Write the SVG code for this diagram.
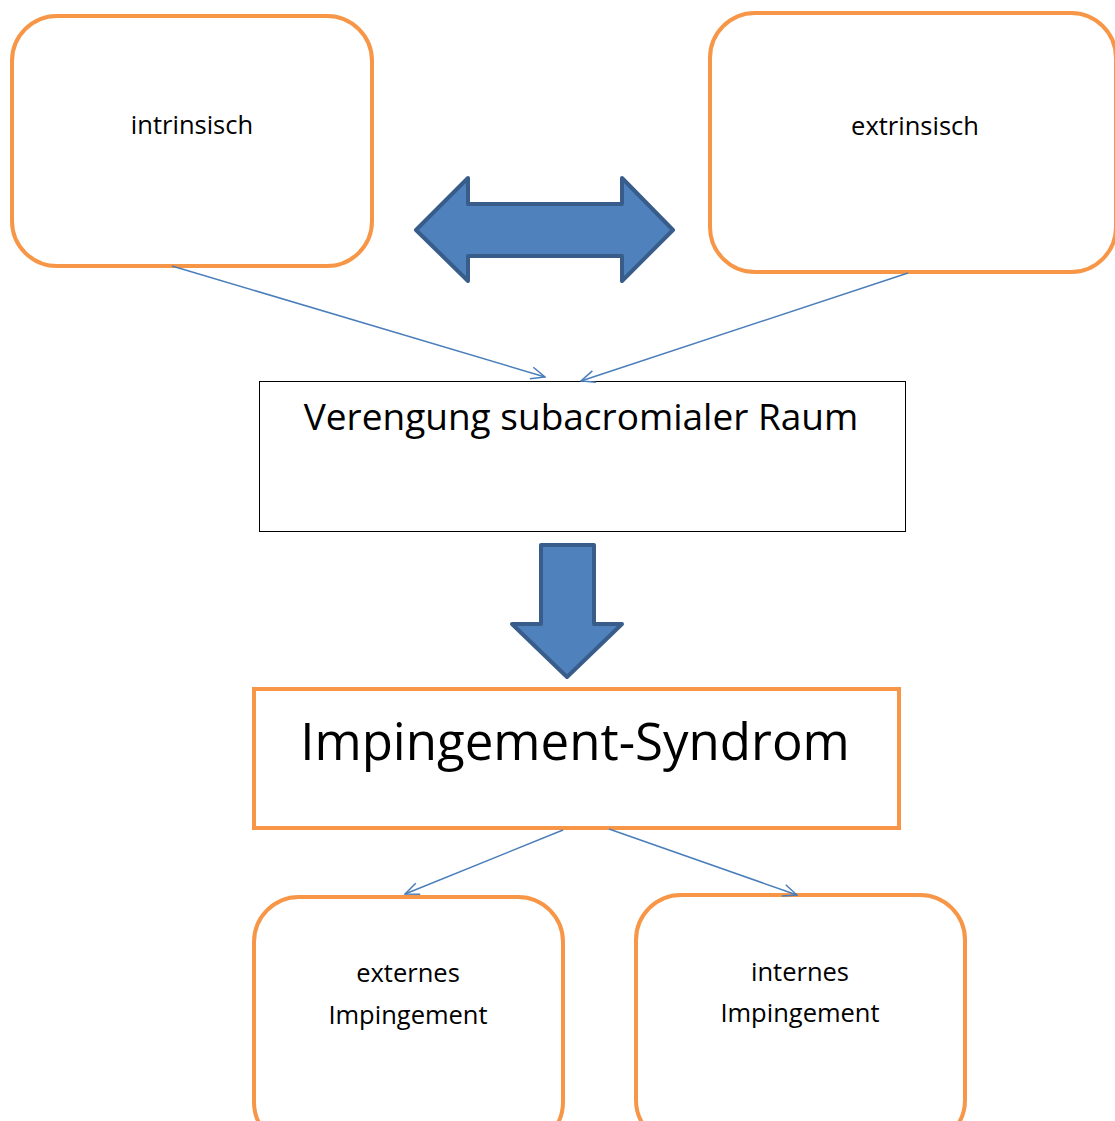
<svg xmlns="http://www.w3.org/2000/svg" width="1115" height="1121" viewBox="0 0 1115 1121">
<style>
.ob{fill:#fff;stroke:#F79646;stroke-width:4}
.lbl{font-family:"Open Sans","Noto Sans",sans-serif;fill:#000;text-anchor:middle}
.sm{font-size:25.5px}
.con{stroke:#4A7EBB;stroke-width:1.5;fill:none}
.big{fill:#4F81BD;stroke:#385D8A;stroke-width:4;stroke-linejoin:round}
</style>
<defs>
<marker id="ah" viewBox="0 0 16 14" refX="15" refY="7" markerWidth="16" markerHeight="14" markerUnits="userSpaceOnUse" orient="auto">
<path d="M1,1 L15,7 L1,13" fill="none" stroke="#4A7EBB" stroke-width="1.5"/>
</marker>
</defs>
<rect width="1115" height="1121" fill="#fff"/>
<g id="intrinsisch">
<rect class="ob" x="12" y="16" width="360" height="250" rx="45"/>
<text class="lbl sm" x="192" y="134">intrinsisch</text>
</g>
<g id="extrinsisch">
<rect class="ob" x="710" y="13" width="406" height="259" rx="45"/>
<text class="lbl sm" x="915" y="135">extrinsisch</text>
</g>
<g id="doppelpfeil">
<path class="big" d="M416,230 L468,178 L468,204 L622,204 L622,178 L673,230 L622,281 L622,256 L468,256 L468,281 Z"/>
</g>
<g id="verengung">
<rect x="259.5" y="381.5" width="646" height="150" fill="#fff" stroke="#000" stroke-width="1"/>
<text class="lbl" x="581" y="430" font-size="37">Verengung subacromialer Raum</text>
</g>
<g id="pfeil-unten">
<path class="big" d="M541,545 L594,545 L594,624 L622,624 L567,677 L512,624 L541,624 Z"/>
</g>
<g id="impingement-syndrom">
<rect x="254" y="689" width="645" height="139" fill="#fff" stroke="#F79646" stroke-width="4"/>
<text class="lbl" x="575" y="760" font-size="51">Impingement-Syndrom</text>
</g>
<g id="externes">
<rect class="ob" x="254" y="897" width="309" height="250" rx="45"/>
<text class="lbl sm" x="408" y="982">externes</text>
<text class="lbl sm" x="408" y="1024">Impingement</text>
</g>
<g id="internes">
<rect class="ob" x="636" y="895" width="329" height="250" rx="45"/>
<text class="lbl sm" x="800" y="981">internes</text>
<text class="lbl sm" x="800" y="1022">Impingement</text>
</g>
<g id="connectors">
<line class="con" x1="172" y1="266" x2="545" y2="377" marker-end="url(#ah)"/>
<line class="con" x1="908" y1="273" x2="581" y2="381" marker-end="url(#ah)"/>
<line class="con" x1="563" y1="830" x2="405" y2="894" marker-end="url(#ah)"/>
<line class="con" x1="609" y1="829" x2="797" y2="895" marker-end="url(#ah)"/>
</g>
</svg>
